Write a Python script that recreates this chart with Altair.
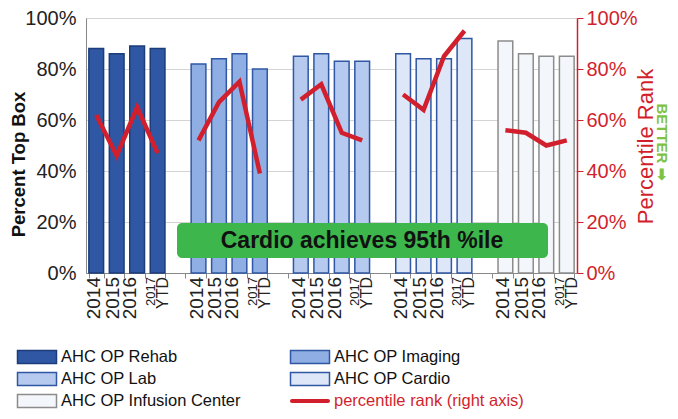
import altair as alt
import pandas as pd

# ---- data ----
series_names = ["AHC OP Rehab", "AHC OP Imaging", "AHC OP Lab", "AHC OP Cardio", "AHC OP Infusion Center"]
years = ["2014", "2015", "2016", "2017 YTD"]
rehab_top = [0.88, 0.86, 0.89, 0.88]
imaging_top = [0.82, 0.84, 0.86, 0.80]
lab_top = [0.85, 0.86, 0.83, 0.83]
cardio_top = [0.86, 0.84, 0.84, 0.92]
infusion_top = [0.91, 0.86, 0.85, 0.85]
rehab_rank = [0.62, 0.46, 0.65, 0.47]
imaging_rank = [0.52, 0.67, 0.75, 0.39]
lab_rank = [0.68, 0.74, 0.55, 0.52]
cardio_rank = [0.70, 0.64, 0.85, 0.95]
infusion_rank = [0.56, 0.55, 0.50, 0.52]

fills = ["#2f57a4", "#8eaee4", "#b5caee", "#dde7f7", "#f3f6fb"]
strokes = ["#1c3d7a", "#2f57a4", "#2f57a4", "#2f57a4", "#8c8c8c"]
red = "#d21f2d"

tops = [rehab_top, imaging_top, lab_top, cardio_top, infusion_top]
ranks = [rehab_rank, imaging_rank, lab_rank, cardio_rank, infusion_rank]

slot_order = []
rows = []
for gi, name in enumerate(series_names):
    for yi, yr in enumerate(years):
        slot = f"{gi}|{yr}"
        slot_order.append(slot)
        rows.append({"slot": slot, "series": name, "year": yr, "yi": yi,
                     "top": tops[gi][yi], "rank": ranks[gi][yi],
                     "y1": yr.split(" ")[0],
                     "y2": yr.split(" ")[1] if " " in yr else ""})
    if gi < len(series_names) - 1:
        slot_order.append(f"gap{gi}")
df = pd.DataFrame(rows)

font = "Liberation Sans"

fill_scale = alt.Scale(domain=series_names, range=fills)
stroke_scale = alt.Scale(domain=series_names, range=strokes)
band = alt.Scale(domain=slot_order, paddingInner=0.28, paddingOuter=0.14)

bars = alt.Chart(df).mark_bar(strokeWidth=1.5).encode(
    x=alt.X("slot:N", sort=slot_order, scale=band,
            axis=alt.Axis(title=None, orient="bottom", labels=False,
                          tickBand="extent", tickSize=5, tickColor="#888",
                          domainColor="#888")),
    y=alt.Y("top:Q", scale=alt.Scale(domain=[0, 1]),
            axis=alt.Axis(title="Percent Top Box", orient="left", format="%",
                          values=[0, .2, .4, .6, .8, 1],
                          titleFont=font, titleFontSize=18.5, titleFontWeight="bold",
                          titleColor="#111", titleX=-68, titleY=146,
                          titleBaseline="middle", titleAngle=270,
                          labelFont=font, labelFontSize=20, labelColor="#222",
                          labelPadding=10, ticks=False, domainColor="#888",
                          grid=True, gridColor="#d4d4d4")),
    fill=alt.Fill("series:N", scale=fill_scale, legend=None),
    stroke=alt.Stroke("series:N", scale=stroke_scale, legend=None),
)

# category labels (rotated), one layer per year position
label_layers = []
year_shift = [-2, -4, -7]
for yi in range(3):
    label_layers.append(
        alt.Chart(df).transform_filter(alt.datum.yi == yi).mark_text(
            angle=270, align="right", baseline="middle", font=font, fontSize=19,
            color="#222", dy=year_shift[yi]
        ).encode(x=alt.X("slot:N", sort=slot_order, scale=band, axis=None),
                 y=alt.value(259), text="y1:N")
    )
label_layers.append(
    alt.Chart(df).transform_filter(alt.datum.yi == 3).mark_text(
        angle=270, align="right", baseline="middle", font=font, fontSize=13,
        color="#222", dy=-7
    ).encode(x=alt.X("slot:N", sort=slot_order, scale=band, axis=None),
             y=alt.value(259), text="y1:N")
)
label_layers.append(
    alt.Chart(df).transform_filter(alt.datum.yi == 3).mark_text(
        angle=270, align="right", baseline="middle", font=font, fontSize=16,
        color="#222", dy=5
    ).encode(x=alt.X("slot:N", sort=slot_order, scale=band, axis=None),
             y=alt.value(259), text="y2:N")
)

line = alt.Chart(df).mark_line(color=red, strokeWidth=4.5).encode(
    x=alt.X("slot:N", sort=slot_order,
            scale=alt.Scale(type="point", domain=slot_order, padding=0.5), axis=None),
    y=alt.Y("rank:Q", scale=alt.Scale(domain=[0, 1]),
            axis=alt.Axis(title="Percentile Rank", orient="right", format="%",
                          values=[0, .2, .4, .6, .8, 1],
                          titleFont=font, titleFontSize=22, titleFontWeight="normal",
                          titleColor=red, titleAngle=270, titleX=68, titleY=128,
                          titleBaseline="middle",
                          labelFont=font, labelFontSize=20, labelColor=red,
                          labelPadding=3, tickColor=red, tickSize=6,
                          domainColor=red, domainWidth=1.5, grid=False)),
    detail="series:N",
)

# annotation box
note_df = pd.DataFrame({"t": ["Cardio achieves 95th %ile"]})
box = alt.Chart(note_df).mark_rect(color="#3db64c", cornerRadius=5).encode(
    x=alt.value(91), x2=alt.value(462), y=alt.value(205), y2=alt.value(240))
box_text = alt.Chart(note_df).mark_text(
    font=font, fontSize=23, fontWeight="bold", color="#111").encode(
    x=alt.value(276), y=alt.value(223), text="t:N")

better = alt.Chart(pd.DataFrame({"t": ["BETTER ➡"]})).mark_text(
    font=font, fontSize=15, fontWeight="bold", color="#7dc242", angle=90).encode(
    x=alt.value(576), y=alt.value(124), text="t:N")

# legend
legend_names = ["AHC OP Rehab", "AHC OP Imaging", "AHC OP Lab", "AHC OP Cardio",
                "AHC OP Infusion Center", "percentile rank (right axis)"]
legend_col = [0, 1, 0, 1, 0, 1]
legend_row = [0, 0, 1, 1, 2, 2]
leg_df = pd.DataFrame({"series": legend_names, "col": legend_col, "row": legend_row})

lx = alt.X("col:Q", scale=alt.Scale(domain=[0, 1], range=[-49, 224]), axis=None)
ly = alt.Y("row:Q", scale=alt.Scale(domain=[0, 2], range=[339, 383]), axis=None)

swatch = alt.Chart(leg_df).transform_filter(
    alt.FieldOneOfPredicate(field="series", oneOf=series_names)
).mark_rect(width=39, height=13, strokeWidth=1.5).encode(
    x=lx, y=ly,
    fill=alt.Fill("series:N", scale=fill_scale, legend=None),
    stroke=alt.Stroke("series:N", scale=stroke_scale, legend=None),
)
line_swatch = alt.Chart(leg_df).transform_filter(
    alt.datum.series == "percentile rank (right axis)"
).mark_rect(width=40, height=4, color=red, cornerRadius=2).encode(x=lx, y=ly)

leg_text = alt.Chart(leg_df).mark_text(
    align="left", baseline="middle", dx=24, font=font, fontSize=16.5).encode(
    x=lx, y=ly, text="series:N",
    color=alt.condition(alt.datum.series == "percentile rank (right axis)",
                        alt.value(red), alt.value("#111")),
)

chart = alt.layer(bars, line, *label_layers, box, box_text, better,
                  swatch, line_swatch, leg_text).resolve_scale(
    x="independent", y="independent"
).properties(
    width=491, height=255,
    autosize=alt.AutoSizeParams(type="none"),
    padding={"left": 78, "top": 10, "right": 93, "bottom": 137},
).configure_view(stroke="#a6a6a6", strokeWidth=1)

chart.save("out.html", embed_options={"renderer": "svg", "actions": False})
